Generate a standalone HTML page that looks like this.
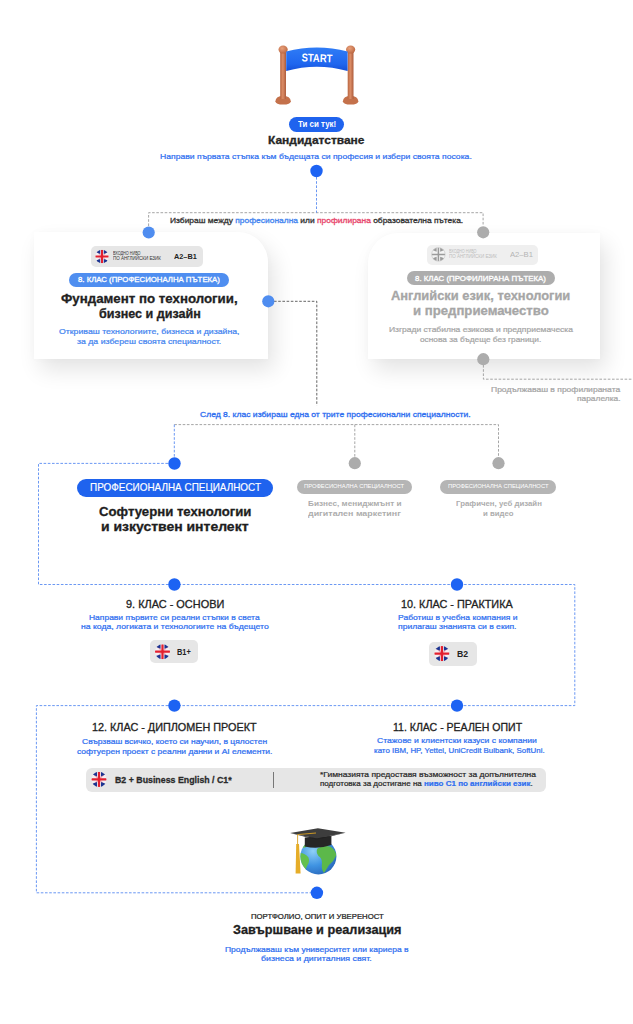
<!DOCTYPE html>
<html lang="bg">
<head>
<meta charset="utf-8">
<style>
html,body{margin:0;padding:0;background:#fff;}
body{width:633px;height:1024px;position:relative;overflow:hidden;font-family:"Liberation Sans", sans-serif;}
.t{position:absolute;white-space:nowrap;line-height:1;transform-origin:0 0;}
.abs{position:absolute;}
.card{position:absolute;background:#fff;}
.pill{position:absolute;border-radius:20px;}
.badge{position:absolute;background:#e6e6e6;border-radius:5px;}
svg.ov{position:absolute;left:0;top:0;}
</style>
</head>
<body>

<!-- cards -->
<div class="card" style="left:33.5px;top:232.3px;width:234.8px;height:126.5px;border-top-right-radius:30px;box-shadow:6px 11px 22px rgba(0,0,0,0.11),0 0 8px rgba(0,0,0,0.02);"></div>
<div class="card" style="left:367.8px;top:232.6px;width:232px;height:126.4px;border-top-left-radius:30px;box-shadow:6px 11px 22px rgba(0,0,0,0.11),0 0 8px rgba(0,0,0,0.02);"></div>

<!-- pills & badges -->
<div class="pill" style="left:289.3px;top:117.2px;width:54.3px;height:14.4px;background:#1f63ee;"></div>
<div class="badge" style="left:91px;top:246px;width:112px;height:20.5px;"></div>
<div class="pill" style="left:69.4px;top:273.3px;width:159.3px;height:14.2px;background:#4f8ef0;"></div>
<div class="badge" style="left:427.4px;top:244.7px;width:110.4px;height:20.2px;background:#efefef;"></div>
<div class="pill" style="left:406.5px;top:270.8px;width:148.8px;height:14px;background:#adadad;"></div>

<div class="pill" style="left:76.9px;top:479.3px;width:195.8px;height:17.8px;background:#1f63ee;"></div>
<div class="pill" style="left:296.6px;top:480px;width:115.1px;height:13.6px;background:#b5b5b5;"></div>
<div class="pill" style="left:440.4px;top:480px;width:116px;height:13.6px;background:#b5b5b5;"></div>

<div class="badge" style="left:150.2px;top:640px;width:47.4px;height:23.3px;"></div>
<div class="badge" style="left:429.1px;top:641.7px;width:47.5px;height:24.2px;"></div>
<div class="badge" style="left:86.3px;top:767.6px;width:459.8px;height:24px;border-radius:6px;"></div>
<div class="abs" style="left:272.8px;top:772px;width:1.2px;height:16px;background:#777;"></div>

<!-- lines & dots -->
<svg class="ov" width="633" height="1024" viewBox="0 0 633 1024">
<defs>
  <clipPath id="fc"><circle cx="0" cy="0" r="1"/></clipPath>
  <g id="flag">
    <g clip-path="url(#fc)">
      <rect x="-1" y="-1" width="2" height="2" fill="#f4eef2"/>
      <path d="M-1 -1 L1 1 M1 -1 L-1 1" stroke="#f0a8b4" stroke-width="0.16"/>
      <path d="M-0.26 -1.1 L-0.26 -0.38 L-1.05 -0.72 L-0.7 -1.1 Z M0.26 -1.1 L0.26 -0.38 L1.05 -0.72 L0.7 -1.1 Z M-0.26 1.1 L-0.26 0.36 L-1.05 0.64 L-0.7 1.1 Z M0.26 1.1 L0.26 0.36 L1.05 0.64 L0.7 1.1 Z" fill="#1b3592"/>
      <path d="M0 -1 V1 M-1 0 H1" stroke="#e3202f" stroke-width="0.3"/>
    </g>
  </g>
  <g id="gflag">
    <g clip-path="url(#fc)">
      <rect x="-1" y="-1" width="2" height="2" fill="#f3f3f3"/>
      <path d="M-0.26 -1.1 L-0.26 -0.38 L-1.05 -0.72 L-0.7 -1.1 Z M0.26 -1.1 L0.26 -0.38 L1.05 -0.72 L0.7 -1.1 Z M-0.26 1.1 L-0.26 0.36 L-1.05 0.64 L-0.7 1.1 Z M0.26 1.1 L0.26 0.36 L1.05 0.64 L0.7 1.1 Z" fill="#9b9b9b"/>
      <path d="M0 -1 V1 M-1 0 H1" stroke="#9b9b9b" stroke-width="0.22"/>
    </g>
  </g>
</defs>
<g fill="none" stroke="#9c9c9c" stroke-width="0.9" stroke-dasharray="2.6 1.6">
  <path d="M148.6 226 V212.7 H483.1 V226"/>
  <path d="M483.4 365 V379.2 H633"/>
  <path d="M174.3 424.6 H498.5 V457 M354.8 424.6 V457"/>
</g>
<g fill="none" stroke="#555" stroke-width="0.9" stroke-dasharray="2.6 1.6">
  <path d="M274 301.3 H316.8 V405.6"/>
</g>
<g fill="none" stroke="#5a8cf2" stroke-width="0.9" stroke-dasharray="2.6 1.6">
  <path d="M316.5 177 V212.7"/>
  <path d="M174.3 424.6 V457"/>
  <path d="M168 463.4 H38.5 V584.5 H574.8 V705.6 H36.4 V892.8 H311"/>
</g>
<g fill="#1d63f3">
  <circle cx="316.5" cy="171" r="6.2"/>
  <circle cx="174.5" cy="463.5" r="6.2"/>
  <circle cx="174.4" cy="584.5" r="6.2"/>
  <circle cx="457" cy="584.5" r="6.2"/>
  <circle cx="457" cy="705.6" r="6.2"/>
  <circle cx="174.4" cy="705.6" r="6.2"/>
  <circle cx="316.9" cy="892.8" r="6.2"/>
</g>
<g fill="#4f8df0">
  <circle cx="148.7" cy="232.5" r="6.1"/>
  <circle cx="268.3" cy="301.3" r="6.1"/>
</g>
<g fill="#acacac">
  <circle cx="483.2" cy="232.3" r="6.1"/>
  <circle cx="483.3" cy="359.2" r="6.1"/>
  <circle cx="354.8" cy="463.2" r="6.1"/>
  <circle cx="498.5" cy="463.2" r="6.1"/>
</g>
<!-- flags -->
<use href="#flag" transform="translate(102 256.5) scale(6.7)"/>
<use href="#gflag" transform="translate(438.4 254.4) scale(6.8)"/>
<circle cx="438.4" cy="254.4" r="6.8" fill="none" stroke="#c4c4c4" stroke-width="0.6"/>
<use href="#flag" transform="translate(162.5 651.7) scale(7.5)"/>
<use href="#flag" transform="translate(441.9 653.6) scale(7.6)"/>
<use href="#flag" transform="translate(99 779.3) scale(7.6)"/>

<!-- START banner -->
<g id="start">
  <defs>
    <linearGradient id="post" x1="0" x2="1" y1="0" y2="0">
      <stop offset="0" stop-color="#b8653f"/>
      <stop offset="0.45" stop-color="#dc8d67"/>
      <stop offset="1" stop-color="#ad5c3c"/>
    </linearGradient>
    <linearGradient id="ban" x1="0" x2="0" y1="0" y2="1">
      <stop offset="0" stop-color="#2f7cf6"/>
      <stop offset="0.7" stop-color="#1f66ef"/>
      <stop offset="1" stop-color="#1550d8"/>
    </linearGradient>
    <radialGradient id="knob" cx="0.4" cy="0.35" r="0.7">
      <stop offset="0" stop-color="#e9a07a"/>
      <stop offset="1" stop-color="#b9653f"/>
    </radialGradient>
  </defs>
  <path d="M275.4 101.2 Q275.8 96 283.1 96 Q290.4 96 290.8 101.2 Q290.4 104.6 283.1 104.6 Q275.8 104.6 275.4 101.2Z" fill="#c4714b"/>
  <path d="M342.9 101.2 Q343.3 96 350.6 96 Q357.9 96 358.3 101.2 Q357.9 104.6 350.6 104.6 Q343.3 104.6 342.9 101.2Z" fill="#c4714b"/>
  <rect x="280.2" y="50" width="5.8" height="49" fill="url(#post)"/>
  <rect x="347.7" y="50" width="5.8" height="49" fill="url(#post)"/>
  <ellipse cx="283.1" cy="49.6" rx="4.6" ry="4" fill="url(#knob)"/>
  <ellipse cx="350.6" cy="49.6" rx="4.6" ry="4" fill="url(#knob)"/>
  <path d="M286.2 51.5 Q316.8 43.5 347.6 51.5 L347.6 71 Q316.8 62.5 286.2 71 Z" fill="url(#ban)"/>
  <text x="317" y="61.9" text-anchor="middle" font-family="Liberation Sans" font-weight="700" font-size="11.2" fill="#fff" textLength="30.7" lengthAdjust="spacingAndGlyphs" transform="rotate(2 317 58)">START</text>
</g>

<!-- graduation globe -->
<g id="grad">
  <defs>
    <radialGradient id="glob" cx="0.35" cy="0.35" r="0.75">
      <stop offset="0" stop-color="#8fd0f7"/>
      <stop offset="0.55" stop-color="#3f93e2"/>
      <stop offset="1" stop-color="#2764b8"/>
    </radialGradient>
    <clipPath id="gclip"><circle cx="318.4" cy="856.4" r="18"/></clipPath>
  </defs>
  <circle cx="318.4" cy="856.4" r="18" fill="url(#glob)"/>
  <g clip-path="url(#gclip)">
    <path d="M317.5 848.5 Q323 845 330 846.5 Q335 849 336.5 855 Q334 861 329 865 Q326 870 324 873 Q321 869 322 863 Q322 858 318.5 856 Q315.5 852 317.5 848.5Z" fill="#5cb84a"/>
    <path d="M300 853 Q305 853 308.5 857.5 Q310 862 307 866 Q305.5 870 304 873 Q301 868 300 861Z" fill="#63c04e"/>
    <path d="M302 843.5 Q306 843 308 846 Q305 848.5 301.5 847.5Z" fill="#63c04e"/>
  </g>
  <path d="M304.8 837.5 L331.4 836 L331.4 845 Q318 849.5 304.8 846.5 Z" fill="#262626"/>
  <path d="M290.1 833.1 L317.9 828.2 L345.6 832.8 L316.8 838.5 Z" fill="#3d3d3d"/>
  <path d="M290.1 833.1 L316.8 838.5 L345.6 832.8 L316.8 839.8 Z" fill="#222"/>
  <path d="M316 833 L297.6 834.6 V845" stroke="#d9a020" stroke-width="0.9" fill="none"/>
  <path d="M296.2 844 H299 L300.6 873.5 H295.6 Z" fill="#e6ad28"/>
</g>
</svg>

<div class="t" id="t0" style="left:268.10px;top:135.32px;font-size:11.20px;color:#262626;font-weight:700;-webkit-text-stroke-width:0.30px;transform:scaleX(1.0696);">Кандидатстване</div>
<div class="t" id="t1" style="left:160.20px;top:152.97px;font-size:7.60px;color:#2f6ff0;-webkit-text-stroke-width:0.22px;transform:scaleX(1.1342);">Направи първата стъпка към бъдещата си професия и избери своята посока.</div>
<div class="t" id="t2" style="left:297.80px;top:119.79px;font-size:8.40px;color:#fff;font-weight:700;transform:scaleX(0.9465);">Ти си тук!</div>
<div class="t" id="t3" style="left:170.00px;top:217.17px;font-size:7.60px;color:#333;-webkit-text-stroke-width:0.30px;transform:scaleX(1.1086);">Избираш между <span style="color:#4485f0">професионална</span> или <span style="color:#e8466c">профилирана</span> образователна пътека.</div>
<div class="t" id="t4" style="left:113.20px;top:252.01px;font-size:4.60px;color:#333;transform:scaleX(0.8175);">ВХОДНО НИВО</div>
<div class="t" id="t5" style="left:113.20px;top:257.11px;font-size:4.60px;color:#333;transform:scaleX(0.9862);">ПО АНГЛИЙСКИ ЕЗИК</div>
<div class="t" id="t6" style="left:173.80px;top:253.03px;font-size:8.00px;color:#222;font-weight:700;transform:scaleX(0.9154);">A2–B1</div>
<div class="t" id="t7" style="left:78.10px;top:276.20px;font-size:7.20px;color:#fff;-webkit-text-stroke-width:0.30px;transform:scaleX(1.0835);">8. КЛАС (ПРОФЕСИОНАЛНА ПЪТЕКА)</div>
<div class="t" id="t8" style="left:60.70px;top:291.99px;font-size:13.00px;color:#222;font-weight:700;-webkit-text-stroke-width:0.30px;transform:scaleX(1.0214);">Фундамент по технологии,</div>
<div class="t" id="t9" style="left:98.50px;top:306.99px;font-size:13.00px;color:#222;font-weight:700;-webkit-text-stroke-width:0.30px;transform:scaleX(0.9654);">бизнес и дизайн</div>
<div class="t" id="t10" style="left:58.90px;top:328.33px;font-size:7.40px;color:#4485f0;-webkit-text-stroke-width:0.22px;transform:scaleX(1.1813);">Откриваш технологиите, бизнеса и дизайна,</div>
<div class="t" id="t11" style="left:76.80px;top:337.73px;font-size:7.40px;color:#4485f0;-webkit-text-stroke-width:0.22px;transform:scaleX(1.1806);">за да избереш своята специалност.</div>
<div class="t" id="t12" style="left:449.00px;top:250.11px;font-size:4.60px;color:#bdbdbd;transform:scaleX(0.8175);">ВХОДНО НИВО</div>
<div class="t" id="t13" style="left:449.00px;top:255.21px;font-size:4.60px;color:#bdbdbd;transform:scaleX(0.9862);">ПО АНГЛИЙСКИ ЕЗИК</div>
<div class="t" id="t14" style="left:510.00px;top:251.23px;font-size:8.00px;color:#b5b5b5;transform:scaleX(0.9571);">A2–B1</div>
<div class="t" id="t15" style="left:415.20px;top:274.80px;font-size:7.20px;color:#fff;-webkit-text-stroke-width:0.30px;transform:scaleX(1.0959);">8. КЛАС (ПРОФИЛИРАНА ПЪТЕКА)</div>
<div class="t" id="t16" style="left:390.70px;top:289.66px;font-size:12.80px;color:#a6a6a6;font-weight:700;-webkit-text-stroke-width:0.30px;transform:scaleX(1.0069);">Английски език, технологии</div>
<div class="t" id="t17" style="left:412.50px;top:305.16px;font-size:12.80px;color:#a6a6a6;font-weight:700;-webkit-text-stroke-width:0.30px;transform:scaleX(1.0284);">и предприемачество</div>
<div class="t" id="t18" style="left:388.90px;top:326.13px;font-size:7.40px;color:#a6a6a6;-webkit-text-stroke-width:0.22px;transform:scaleX(1.1490);">Изгради стабилна езикова и предприемаческа</div>
<div class="t" id="t19" style="left:420.30px;top:335.53px;font-size:7.40px;color:#a6a6a6;-webkit-text-stroke-width:0.22px;transform:scaleX(1.1249);">основа за бъдеще без граници.</div>
<div class="t" id="t20" style="left:491.00px;top:386.07px;font-size:7.00px;color:#a6a6a6;-webkit-text-stroke-width:0.22px;transform:scaleX(1.2183);">Продължаваш в профилираната</div>
<div class="t" id="t21" style="left:576.70px;top:395.37px;font-size:7.00px;color:#a6a6a6;-webkit-text-stroke-width:0.22px;transform:scaleX(1.1964);">паралелка.</div>
<div class="t" id="t22" style="left:200.40px;top:410.57px;font-size:7.60px;color:#2f6ff0;-webkit-text-stroke-width:0.30px;transform:scaleX(1.1264);">След 8. клас избираш една от трите професионални специалности.</div>
<div class="t" id="t23" style="left:89.80px;top:483.46px;font-size:10.20px;color:#fff;-webkit-text-stroke-width:0.16px;transform:scaleX(0.9739);">ПРОФЕСИОНАЛНА СПЕЦИАЛНОСТ</div>
<div class="t" id="t24" style="left:98.70px;top:505.73px;font-size:12.60px;color:#1e1e1e;font-weight:700;-webkit-text-stroke-width:0.30px;transform:scaleX(1.0455);">Софтуерни технологии</div>
<div class="t" id="t25" style="left:100.90px;top:520.93px;font-size:12.60px;color:#1e1e1e;font-weight:700;-webkit-text-stroke-width:0.30px;transform:scaleX(1.1095);">и изкуствен интелект</div>
<div class="t" id="t26" style="left:304.20px;top:484.34px;font-size:5.50px;color:#fff;transform:scaleX(1.0549);">ПРОФЕСИОНАЛНА СПЕЦИАЛНОСТ</div>
<div class="t" id="t27" style="left:447.80px;top:484.34px;font-size:5.50px;color:#fff;transform:scaleX(1.0602);">ПРОФЕСИОНАЛНА СПЕЦИАЛНОСТ</div>
<div class="t" id="t28" style="left:308.00px;top:499.60px;font-size:7.20px;color:#adadad;font-weight:700;transform:scaleX(1.1419);">Бизнес, мениджмънт и</div>
<div class="t" id="t29" style="left:308.30px;top:509.70px;font-size:7.20px;color:#adadad;font-weight:700;transform:scaleX(1.2369);">дигитален маркетинг</div>
<div class="t" id="t30" style="left:455.70px;top:499.60px;font-size:7.20px;color:#adadad;font-weight:700;transform:scaleX(1.0893);">Графичен, уеб дизайн</div>
<div class="t" id="t31" style="left:483.40px;top:509.70px;font-size:7.20px;color:#adadad;font-weight:700;transform:scaleX(1.0850);">и видео</div>
<div class="t" id="t32" style="left:125.80px;top:598.86px;font-size:10.80px;color:#222;-webkit-text-stroke-width:0.30px;transform:scaleX(1.0124);">9. КЛАС - ОСНОВИ</div>
<div class="t" id="t33" style="left:89.20px;top:613.60px;font-size:7.20px;color:#2f6ff0;-webkit-text-stroke-width:0.22px;transform:scaleX(1.1795);">Направи първите си реални стъпки в света</div>
<div class="t" id="t34" style="left:80.70px;top:622.80px;font-size:7.20px;color:#2f6ff0;-webkit-text-stroke-width:0.22px;transform:scaleX(1.2002);">на кода, логиката и технологиите на бъдещето</div>
<div class="t" id="t35" style="left:176.90px;top:647.75px;font-size:8.80px;color:#222;font-weight:700;transform:scaleX(0.8419);">B1+</div>
<div class="t" id="t36" style="left:400.50px;top:598.86px;font-size:10.80px;color:#222;-webkit-text-stroke-width:0.30px;transform:scaleX(1.0033);">10. КЛАС - ПРАКТИКА</div>
<div class="t" id="t37" style="left:397.90px;top:613.60px;font-size:7.20px;color:#2f6ff0;-webkit-text-stroke-width:0.22px;transform:scaleX(1.1860);">Работиш в учебна компания и</div>
<div class="t" id="t38" style="left:397.90px;top:622.70px;font-size:7.20px;color:#2f6ff0;-webkit-text-stroke-width:0.22px;transform:scaleX(1.1953);">прилагаш знанията си в екип.</div>
<div class="t" id="t39" style="left:457.20px;top:649.78px;font-size:9.00px;color:#222;font-weight:700;transform:scaleX(0.9639);">B2</div>
<div class="t" id="t40" style="left:92.10px;top:722.32px;font-size:10.60px;color:#222;-webkit-text-stroke-width:0.30px;transform:scaleX(1.0213);">12. КЛАС - ДИПЛОМЕН ПРОЕКТ</div>
<div class="t" id="t41" style="left:82.30px;top:738.30px;font-size:7.20px;color:#2f6ff0;-webkit-text-stroke-width:0.22px;transform:scaleX(1.1837);">Свързваш всичко, което си научил, в цялостен</div>
<div class="t" id="t42" style="left:76.90px;top:748.00px;font-size:7.20px;color:#2f6ff0;-webkit-text-stroke-width:0.22px;transform:scaleX(1.1804);">софтуерен проект с реални данни и AI елементи.</div>
<div class="t" id="t43" style="left:392.70px;top:721.62px;font-size:10.60px;color:#222;-webkit-text-stroke-width:0.30px;transform:scaleX(0.9939);">11. КЛАС - РЕАЛЕН ОПИТ</div>
<div class="t" id="t44" style="left:377.00px;top:737.20px;font-size:7.20px;color:#2f6ff0;-webkit-text-stroke-width:0.22px;transform:scaleX(1.1976);">Стажове и клиентски казуси с компании</div>
<div class="t" id="t45" style="left:374.20px;top:746.50px;font-size:7.20px;color:#2f6ff0;-webkit-text-stroke-width:0.22px;transform:scaleX(1.0989);">като IBM, HP, Yettel, UniCredit Bulbank, SoftUni.</div>
<div class="t" id="t46" style="left:115.00px;top:774.50px;font-size:9.80px;color:#2a2a2a;font-weight:700;-webkit-text-stroke-width:0.30px;transform:scaleX(0.8987);">B2 + Business English / C1*</div>
<div class="t" id="t47" style="left:320.00px;top:771.23px;font-size:7.40px;color:#2a2a2a;-webkit-text-stroke-width:0.22px;transform:scaleX(1.1483);">*Гимназията предоставя възможност за допълнителна</div>
<div class="t" id="t48" style="left:320.00px;top:780.03px;font-size:7.40px;color:#2a2a2a;-webkit-text-stroke-width:0.22px;transform:scaleX(1.0836);">подготовка за достигане на <b style="color:#2f6ff0">ниво C1 по английски език</b>.</div>
<div class="t" id="t49" style="left:251.10px;top:912.53px;font-size:7.40px;color:#222;-webkit-text-stroke-width:0.22px;transform:scaleX(1.0486);">ПОРТФОЛИО, ОПИТ И УВЕРЕНОСТ</div>
<div class="t" id="t50" style="left:232.50px;top:923.19px;font-size:13.00px;color:#1e1e1e;font-weight:700;-webkit-text-stroke-width:0.30px;transform:scaleX(0.9774);">Завършване и реализация</div>
<div class="t" id="t51" style="left:225.40px;top:946.30px;font-size:7.20px;color:#2f6ff0;-webkit-text-stroke-width:0.22px;transform:scaleX(1.1829);">Продължаваш към университет или кариера в</div>
<div class="t" id="t52" style="left:261.00px;top:955.40px;font-size:7.20px;color:#2f6ff0;-webkit-text-stroke-width:0.22px;transform:scaleX(1.2186);">бизнеса и дигиталния свят.</div>

</body>
</html>
